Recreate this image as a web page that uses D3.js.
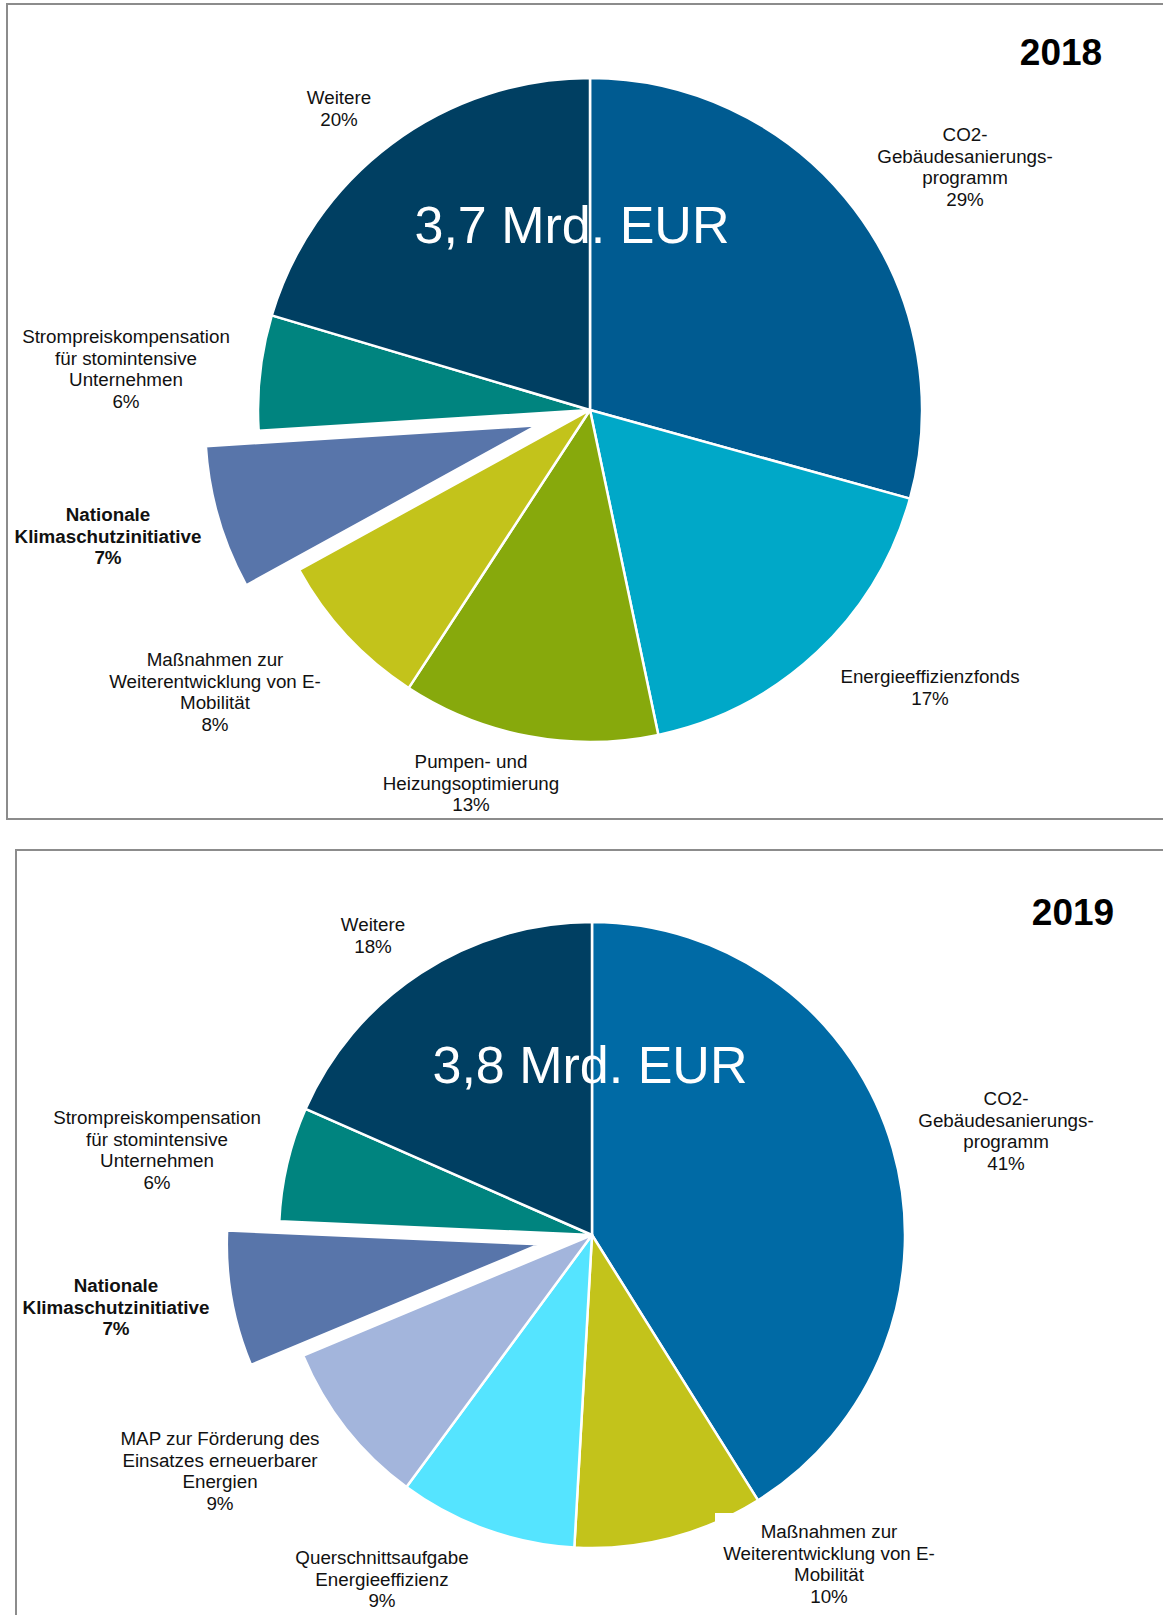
<!DOCTYPE html>
<html>
<head>
<meta charset="utf-8">
<script src="https://cdn.jsdelivr.net/npm/d3@7"></script>
<style>
  body { margin: 0; background: #fff; }
  svg { display: block; }
  text { font-family: "Liberation Sans", Arial, sans-serif; }
</style>
</head>
<body>
<svg width="1163" height="1615"></svg>
<script>
// two pies, one per year, one slice pulled out (NKI)

var years = ["2018", "2019"];
var totals = [3.7, 3.8]; // Mrd. EUR

var cats2018 = [
  ["CO2-", "Gebäudesanierungs-", "programm"],
  ["Energieeffizienzfonds"],
  ["Pumpen- und", "Heizungsoptimierung"],
  ["Maßnahmen zur", "Weiterentwicklung von E-", "Mobilität"],
  ["Nationale", "Klimaschutzinitiative"],
  ["Strompreiskompensation", "für stomintensive", "Unternehmen"],
  ["Weitere"]
];
var vals2018 = [29.3, 17.4, 12.5, 7.8, 7.0, 5.6, 20.4];
var cols2018 = ["#005b91", "#00a8c8", "#87a90c", "#c3c31b", "#5875aa", "#00847f", "#003f62"];

var cats2019 = [
  ["CO2-", "Gebäudesanierungs-", "programm"],
  ["Maßnahmen zur", "Weiterentwicklung von E-", "Mobilität"],
  ["Querschnittsaufgabe", "Energieeffizienz"],
  ["MAP zur Förderung des", "Einsatzes erneuerbarer", "Energien"],
  ["Nationale", "Klimaschutzinitiative"],
  ["Strompreiskompensation", "für stomintensive", "Unternehmen"],
  ["Weitere"]
];
var vals2019 = [41.1, 9.8, 9.2, 8.6, 7.0, 5.9, 18.4];
var cols2019 = ["#006aa5", "#c3c31b", "#55e4ff", "#a3b5dc", "#5875aa", "#00847f", "#003f62"];

var exploded = 4; // index of the pulled-out slice in both years

var svg = d3.select('svg');

// layout of each panel
var panels = [
  {
    year: years[0], total: totals[0], cats: cats2018, vals: vals2018, cols: cols2018,
    frame: {x: 7, y: 4, w: 1200, h: 815},
    cx: 590, cy: 410, r: 332, pull: 55,
    title: {x: 1061, y: 65},
    totalPos: {x: 572, y: 243},
    labels: [[965, 141], [930, 683], [471, 768], [215, 666], [108, 521], [126, 343], [339, 104]]
  },
  {
    year: years[1], total: totals[1], cats: cats2019, vals: vals2019, cols: cols2019,
    frame: {x: 16, y: 850, w: 1200, h: 800},
    cx: 592, cy: 1235, r: 313, pull: 53,
    title: {x: 1073, y: 925},
    totalPos: {x: 590, y: 1083},
    labels: [[1006, 1105], [829, 1538], [382, 1564], [220, 1445], [116, 1292], [157, 1124], [373, 931]],
    box: {x: 715, y: 1513, w: 230, h: 100}
  }
];

var fmt = d3.format(".1f");
var lh = 21.6;

panels.forEach(function(p){

  svg.append('rect')
    .attr('x', p.frame.x)
    .attr('y', p.frame.y)
    .attr('width', p.frame.w)
    .attr('height', p.frame.h)
    .attr('fill', 'white')
    .attr('stroke', '#8c8c8c')
    .attr('stroke-width', 2);

  var pie = d3.pie().sort(null).value(function(d){ return d; });
  var arcs = pie(p.vals);
  var arc = d3.arc().innerRadius(0).outerRadius(p.r);

  var g = svg.append('g').attr('transform', 'translate(' + p.cx + ',' + p.cy + ')');

  g.selectAll('path')
    .data(arcs)
    .enter().append('path')
    .attr('d', arc)
    .attr('fill', function(d, i){ return p.cols[i]; })
    .attr('stroke', 'white')
    .attr('stroke-width', 2.5)
    .attr('stroke-linejoin', 'round')
    .attr('transform', function(d, i){
      if(i !== exploded) return null;
      var a = (d.startAngle + d.endAngle) / 2;
      return 'translate(' + (Math.sin(a) * p.pull) + ',' + (-Math.cos(a) * p.pull) + ')';
    });

  // the label box that cuts into the E-Mobilität slice in 2019
  if(p.box){
    svg.append('rect')
      .attr('x', p.box.x).attr('y', p.box.y)
      .attr('width', p.box.w).attr('height', p.box.h)
      .attr('fill', 'white');
  }

  // total in the middle
  svg.append('text')
    .attr('x', p.totalPos.x)
    .attr('y', p.totalPos.y)
    .attr('text-anchor', 'middle')
    .attr('fill', 'white')
    .style('font-size', '52px')
    .text(fmt(p.total).replace('.', ',') + ' Mrd. EUR');

  svg.append('text')
    .attr('x', p.title.x)
    .attr('y', p.title.y)
    .attr('text-anchor', 'middle')
    .style('font-size', '37px')
    .style('font-weight', 'bold')
    .text(p.year);

  p.cats.forEach(function(lines, i){
    var t = svg.append('text')
      .attr('text-anchor', 'middle')
      .attr('fill', '#111')
      .style('font-size', '18.8px')
      .style('font-weight', i === exploded ? 'bold' : 'normal');
    var all = lines.concat([Math.round(p.vals[i]) + '%']);
    all.forEach(function(s, k){
      t.append('tspan')
        .attr('x', p.labels[i][0])
        .attr('y', p.labels[i][1] + k * lh)
        .text(s);
    });
  });

});
</script>
</body>
</html>
